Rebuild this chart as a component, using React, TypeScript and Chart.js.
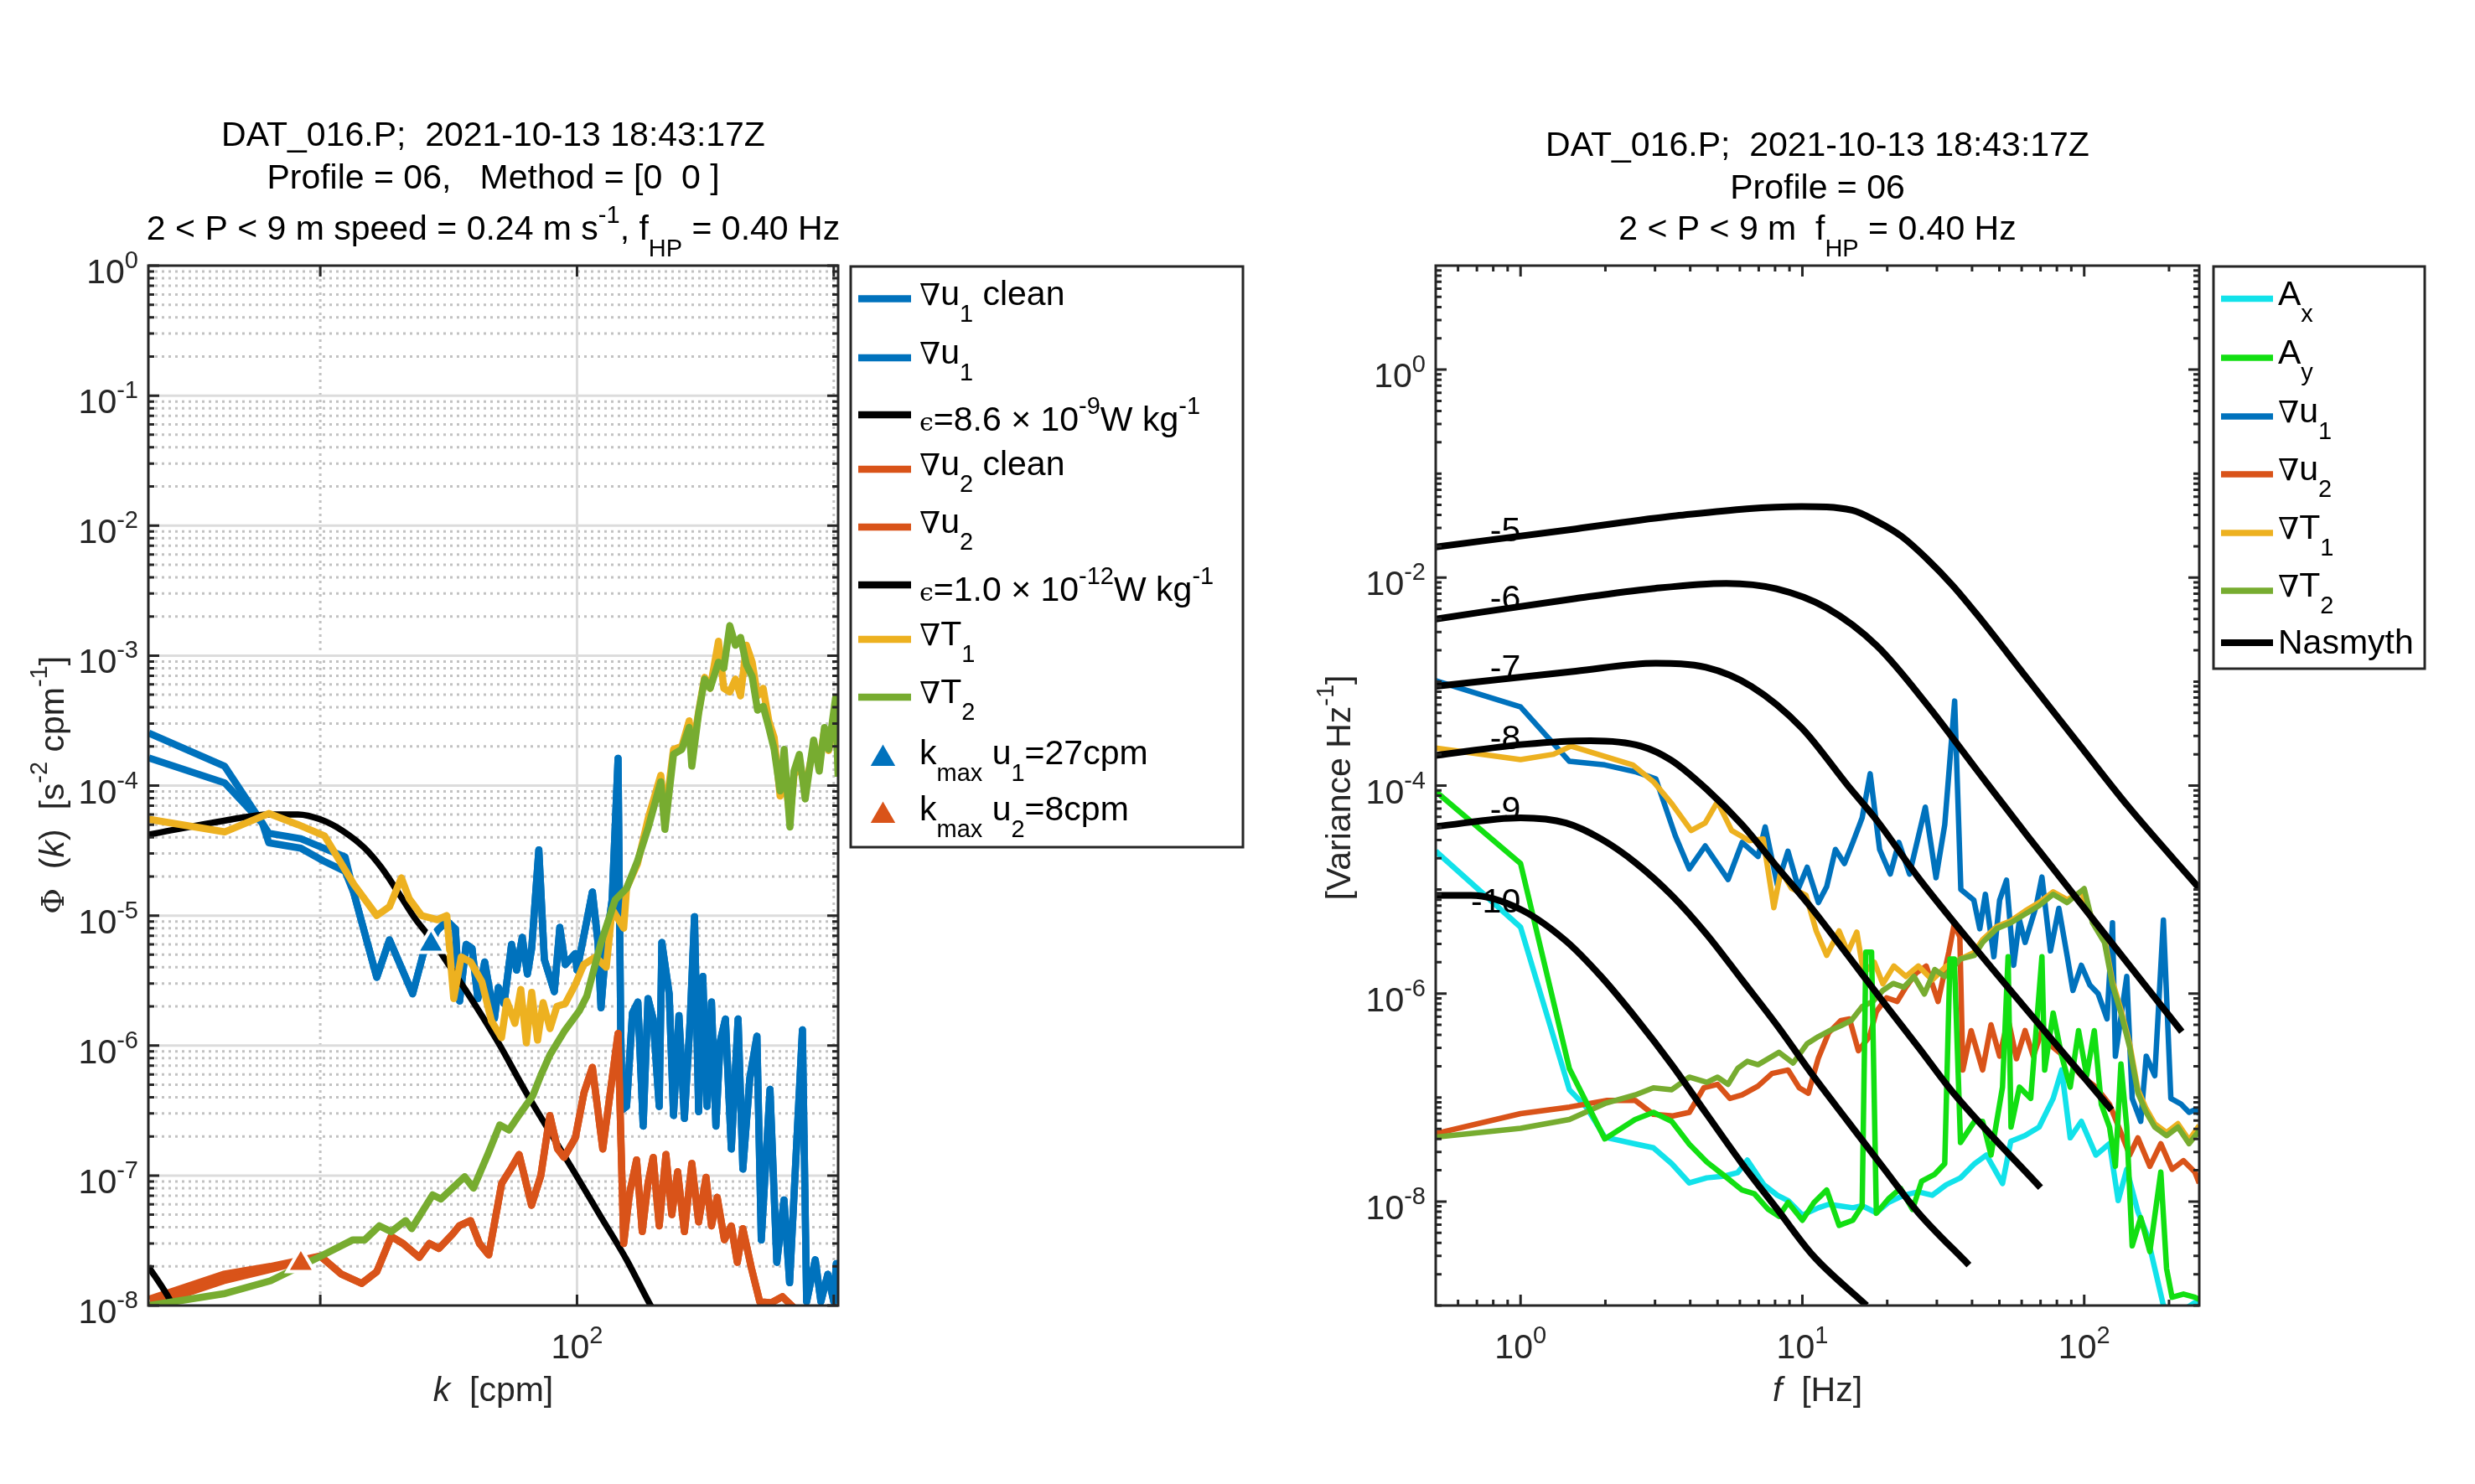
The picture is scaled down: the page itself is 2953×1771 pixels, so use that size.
import React, { useEffect, useRef } from "react";
import { Chart, registerables } from "chart.js";

Chart.register(...registerables);

type Pt = [number, number];

// ================= LEFT PANEL: wavenumber spectra  (k [cpm], Phi [s^-2 cpm^-1]) =================
const u1CleanHead: Pt[] = [[2.15, 1.63e-4], [4.24, 1.05e-4], [5.95, 5.13e-5], [6.3, 3.63e-5], [8.4, 3.3e-5], [10.3, 2.63e-5], [12.5, 2.19e-5]];
const u1RawHead: Pt[] = [[2.15, 2.53e-4], [4.24, 1.41e-4], [5.95, 5.13e-5], [6.3, 4.3e-5], [8.4, 3.9e-5], [10.3, 3.3e-5], [12.5, 2.82e-5]];
const u1Tail: Pt[] = [
  [13.5, 1.5e-5], [16.6, 3.35e-6], [18.6, 6.5e-6], [22.9, 2.5e-6], [25.2, 5.1e-6], [28.6, 7.7e-6], [31.1, 9.1e-6], [33.6, 7.9e-6],
  [34.9, 2.2e-6], [37, 6.0e-6], [39, 5.6e-6], [41.1, 2.3e-6], [43.7, 4.4e-6], [47.7, 1.62e-6], [49.4, 2.8e-6], [52, 2.1e-6],
  [55.6, 6.0e-6], [58.2, 3.8e-6], [61.2, 6.8e-6], [64.1, 3.55e-6], [66.6, 5.6e-6], [71, 3.2e-5], [74.6, 4.6e-6], [81.6, 2.6e-6],
  [85.7, 8.1e-6], [90, 4.2e-6], [98.5, 5.1e-6], [100, 3.8e-6], [106.2, 6.9e-6], [114.8, 1.52e-5], [120.7, 6.2e-6], [124, 1.95e-6],
  [130, 6.2e-6], [137, 1.32e-5], [144.5, 1.62e-4], [148, 1.32e-6], [150, 3.2e-7], [156, 3.4e-7], [164.4, 1.78e-6], [172.6, 2.16e-6],
  [181, 2.4e-7], [189, 2.3e-6], [198, 1.6e-6], [209, 3.4e-7], [214, 6.2e-6], [228.6, 2.5e-6], [237.6, 2.9e-7], [249.5, 1.7e-6],
  [262, 2.75e-7], [276, 1.6e-6], [286.8, 9.8e-6], [297.6, 3.1e-7], [309, 3.4e-6], [321, 3.4e-7], [334, 2.16e-6], [347.5, 2.4e-7],
  [361, 1.07e-6], [378.5, 1.6e-6], [399, 1.6e-7], [424, 1.6e-6], [442.6, 1.12e-7], [471, 5.6e-7], [502, 1.18e-6], [522, 3.2e-8],
  [564.6, 4.6e-7], [600, 2.15e-8], [640, 6.5e-8], [673, 1.5e-8], [718, 1.86e-7], [755, 1.32e-6], [784, 1.07e-8], [847, 2.25e-8],
  [891, 1.07e-8], [948, 1.74e-8], [1000, 1.07e-8], [1023, 2.1e-8], [1040, 1.12e-8],
];
const u1Clean: Pt[] = [...u1CleanHead, ...u1Tail];
const u1Raw: Pt[] = [...u1RawHead, ...u1Tail];

const u2CleanHead: Pt[] = [[2.16, 1.12e-8], [4.2, 1.74e-8], [6.4, 2.0e-8]];
const u2RawHead: Pt[] = [[2.16, 1.0e-8], [4.2, 1.55e-8], [6.4, 1.9e-8]];
const u2Tail: Pt[] = [
  [10, 2.4e-8], [12.1, 1.74e-8], [14.5, 1.48e-8], [16.6, 1.82e-8], [18.9, 3.4e-8], [21, 3.0e-8], [24.3, 2.35e-8], [26.6, 3.0e-8],
  [29, 2.75e-8], [32.8, 3.55e-8], [34.8, 4.1e-8], [38.5, 4.5e-8], [41.7, 3.0e-8], [45.3, 2.45e-8], [50.9, 8.7e-8], [55.6, 1.15e-7],
  [59.5, 1.45e-7], [66.5, 5.9e-8], [72.3, 1.0e-7], [78.4, 2.9e-7], [84, 1.6e-7], [89, 1.38e-7], [98.5, 1.95e-7], [106.5, 4.35e-7],
  [114.8, 6.8e-7], [126, 1.6e-7], [144.5, 1.24e-6], [152, 3.0e-8], [160, 7.2e-8], [170.6, 1.32e-7], [179.5, 3.7e-8], [189, 8.7e-8],
  [198, 1.38e-7], [209, 4.1e-8], [222, 1.45e-7], [234, 5.0e-8], [246.6, 1.07e-7], [262, 3.7e-8], [280, 1.24e-7], [297.6, 4.4e-8],
  [318, 9.7e-8], [334, 4.1e-8], [351.6, 6.8e-8], [375, 3.2e-8], [399, 4.1e-8], [421, 2.15e-8], [442.6, 3.9e-8], [477.5, 1.95e-8],
  [515, 1.07e-8], [571, 1.05e-8], [631, 1.17e-8], [692, 9.8e-9], [740, 8e-9],
];
const u2Clean: Pt[] = [...u2CleanHead, ...u2Tail];
const u2Raw: Pt[] = [...u2RawHead, ...u2Tail];

const t1Left: Pt[] = [
  [2.15, 5.5e-5], [4.24, 4.4e-5], [6.3, 6.1e-5], [8.2, 5.0e-5], [10.4, 4.1e-5], [13.5, 1.74e-5], [16.6, 1.0e-5], [18.6, 1.17e-5],
  [20.7, 1.95e-5], [22.2, 1.35e-5], [24.8, 1.0e-5], [28.6, 9.3e-6], [31.1, 1.0e-5], [33.1, 2.3e-6], [35.4, 4.8e-6], [38.5, 4.4e-6],
  [42.6, 3.1e-6], [46.4, 1.55e-6], [50.8, 1.15e-6], [53.3, 2.2e-6], [57.3, 1.48e-6], [60.4, 2.7e-6], [63.5, 1.05e-6], [66.6, 2.57e-6],
  [70.2, 1.1e-6], [73.8, 2.14e-6], [78.5, 1.35e-6], [83.5, 2.0e-6], [90, 2.1e-6], [98.5, 2.95e-6], [106.2, 4.2e-6], [118, 4.8e-6],
  [130, 4.0e-6], [137, 1.12e-5], [152, 8.0e-6], [156, 1.62e-5], [172, 2.5e-5], [189.7, 5.7e-5], [212, 1.2e-4], [220, 5.7e-5],
  [237.6, 1.9e-4], [256, 2.0e-4], [273.5, 3.15e-4], [280, 1.74e-4], [297.6, 3.7e-4], [314, 6.8e-4], [330, 5.6e-4], [355.6, 1.29e-3],
  [373, 5.6e-4], [393.6, 5.25e-4], [414, 6.6e-4], [433.5, 4.9e-4], [457, 1.2e-3], [481, 8.9e-4], [505, 4.9e-4], [531, 5.6e-4],
  [558.6, 3.15e-4], [586, 2.35e-4], [618, 8.3e-5], [641, 1.29e-4], [675, 5.7e-5], [700, 1.2e-4], [734.5, 1.48e-4], [774, 9.5e-5],
  [835, 2.0e-4], [878, 1.48e-4], [920, 2.7e-4], [955, 1.86e-4], [1016, 3.6e-4], [1040, 2.7e-4],
];
const t2Left: Pt[] = [
  [2.16, 1.0e-8], [4.2, 1.23e-8], [6.4, 1.55e-8], [9.8, 2.34e-8], [13.4, 3.2e-8], [14.9, 3.2e-8], [17, 4.1e-8], [18.9, 3.7e-8],
  [21.5, 4.5e-8], [22.7, 3.9e-8], [27.4, 7.1e-8], [29.5, 6.6e-8], [36.5, 9.8e-8], [39.5, 8.0e-8], [45.1, 1.48e-7], [50, 2.45e-7],
  [54.3, 2.24e-7], [58.6, 2.8e-7], [67.2, 4.1e-7], [72.3, 5.9e-7], [78.5, 8.5e-7], [89.3, 1.29e-6], [102.3, 1.86e-6], [109.2, 2.4e-6],
  [124, 6.2e-6], [140.8, 1.32e-5], [156, 1.62e-5], [172, 2.63e-5], [189.7, 4.8e-5], [212, 1.07e-4], [220, 4.6e-5], [237.6, 1.74e-4],
  [256, 1.9e-4], [273.5, 2.8e-4], [280, 1.41e-4], [297.6, 3.6e-4], [314, 6.6e-4], [330, 5.6e-4], [355.6, 8.9e-4], [373, 8.0e-4],
  [393.6, 1.7e-3], [414, 1.2e-3], [433.5, 1.38e-3], [457, 8.5e-4], [481, 6.9e-4], [505, 3.8e-4], [531, 4.07e-4], [558.6, 2.8e-4],
  [586, 1.9e-4], [618, 9.1e-5], [641, 1.9e-4], [675, 4.8e-5], [700, 1.29e-4], [734.5, 1.74e-4], [774, 7.9e-5], [835, 2.24e-4],
  [878, 1.29e-4], [920, 2.8e-4], [955, 1.9e-4], [1016, 4.7e-4], [1040, 1.17e-4],
];
const nasmythEps86: Pt[] = [
  [2.15, 4.2e-5], [4.3, 5.4e-5], [6.3, 6.0e-5], [8.2, 6.0e-5], [10, 5.5e-5], [12.2, 4.5e-5], [14.9, 3.3e-5], [17.3, 2.34e-5],
  [20.1, 1.51e-5], [23.4, 9.5e-6], [27.2, 6.5e-6], [31.6, 4.2e-6], [36.7, 2.7e-6], [42.6, 1.7e-6], [49.4, 1.05e-6], [64, 4.2e-7],
  [80.3, 2.0e-7], [98.5, 1.03e-7], [124, 4.8e-8], [156, 2.25e-8], [191, 1.05e-8], [215, 7.0e-9],
];
const nasmythEps1e12: Pt[] = [[2.14, 2.0e-8], [2.6, 1.1e-8], [2.9, 7.0e-9]];
const kmaxU1: Pt[] = [[27, 6.0e-6]];
const kmaxU2: Pt[] = [[8.4, 2.1e-8]];

// ================= RIGHT PANEL: frequency spectra (f [Hz], variance Hz^-1) =================
const axRight: Pt[] = [
  [0.5, 2.34e-5], [1.0, 4.35e-6], [1.49, 1.19e-7], [1.71, 8.1e-8], [1.99, 4.16e-8], [2.58, 3.56e-8], [2.96, 3.29e-8], [3.44, 2.31e-8],
  [3.97, 1.51e-8], [4.58, 1.69e-8], [5.3, 1.76e-8], [5.9, 1.9e-8], [6.38, 2.5e-8], [7.3, 1.45e-8], [8.15, 1.15e-8], [8.9, 1.02e-8],
  [10, 7.4e-9], [11.4, 8.7e-9], [12.4, 9.4e-9], [13.5, 9.1e-9], [15.1, 8.7e-9], [16.3, 9.1e-9], [18.3, 7.8e-9], [20.2, 9.8e-9],
  [22.9, 1.15e-8], [25.8, 1.24e-8], [28.9, 1.15e-8], [32.4, 1.45e-8], [36.4, 1.69e-8], [40.8, 2.31e-8], [45, 2.8e-8], [51.3, 1.49e-8],
  [54.9, 3.8e-8], [61.6, 4.3e-8], [69.2, 5.2e-8], [77.6, 9.8e-8], [83.2, 1.84e-7], [89.2, 4.1e-8], [97.7, 5.9e-8], [110, 2.8e-8],
  [123, 3.6e-8], [132, 1.02e-8], [141.6, 2.04e-8], [155, 8.0e-9], [167, 4.8e-9], [178, 2.27e-9], [191, 1.0e-9], [210, 8e-10],
  [247, 1.07e-9], [256, 1.0e-9],
];
const ayRight: Pt[] = [
  [0.5, 8.8e-5], [1.0, 1.78e-5], [1.49, 1.9e-7], [1.99, 4.0e-8], [2.55, 6.15e-8], [2.96, 7.2e-8], [3.44, 5.9e-8], [3.97, 3.56e-8],
  [4.58, 2.4e-8], [5.3, 1.76e-8], [6.11, 1.29e-8], [6.75, 1.19e-8], [7.57, 8.4e-9], [8.26, 7.2e-9], [8.9, 9.8e-9], [10, 6.6e-9],
  [11, 9.8e-9], [12.2, 1.29e-8], [13.5, 5.9e-9], [15.1, 6.6e-9], [16.3, 9.1e-9], [16.8, 2.5e-6], [17.6, 2.5e-6], [18.3, 7.7e-9],
  [20.2, 1.06e-8], [22.3, 1.34e-8], [24.6, 8.4e-9], [26.5, 1.57e-8], [29.5, 1.83e-8], [32, 2.31e-8], [33.4, 2.15e-6], [34.6, 2.15e-6],
  [36.4, 3.7e-8], [40.8, 5.9e-8], [43.6, 5.9e-8], [46.7, 2.8e-8], [51.3, 1.26e-7], [53.7, 2.26e-6], [55, 5.2e-8], [58.9, 1.26e-7],
  [64.6, 9.8e-8], [70.8, 2.26e-6], [72.4, 1.84e-7], [77.6, 6.5e-7], [83.2, 2.5e-7], [89.2, 1.26e-7], [95.5, 4.4e-7], [102, 1.62e-7],
  [108.6, 4.4e-7], [115, 8.6e-8], [123, 5.2e-8], [129, 2.18e-8], [135, 2.1e-7], [141.6, 5.2e-8], [148, 3.75e-9], [158.7, 7.0e-9],
  [171, 3.3e-9], [187, 1.92e-8], [196, 2.27e-9], [205, 1.2e-9], [225, 1.29e-9], [247, 1.2e-9], [256, 1.14e-9],
];
const u1Right: Pt[] = [
  [0.5, 1.02e-3], [1.0, 5.7e-4], [1.49, 1.71e-4], [1.99, 1.58e-4], [2.58, 1.35e-4], [3.02, 1.16e-4], [3.54, 3.3e-5], [3.97, 1.58e-5],
  [4.52, 2.63e-5], [5.45, 1.25e-5], [6.11, 2.84e-5], [6.96, 2.08e-5], [7.38, 4.0e-5], [8.15, 1.11e-5], [8.89, 2.34e-5], [9.69, 1.03e-5],
  [10.4, 1.64e-5], [11.4, 7.5e-6], [12.2, 1.07e-5], [13.1, 2.43e-5], [14.1, 1.78e-5], [15.1, 2.84e-5], [16.3, 4.9e-5], [17.4, 1.3e-4],
  [18.8, 2.43e-5], [20.5, 1.41e-5], [22, 2.84e-5], [24, 1.41e-5], [27.3, 6.2e-5], [29.8, 1.3e-5], [32, 4.2e-5], [34.7, 6.5e-4],
  [36.5, 1.0e-5], [40.6, 7.9e-6], [42.6, 4.2e-6], [44.6, 9.0e-6], [47.8, 2.26e-6], [50.1, 7.9e-6], [53, 1.23e-5], [56.2, 1.87e-6],
  [58.9, 5.1e-6], [61.7, 3.1e-6], [67.6, 7.0e-6], [70.8, 1.32e-5], [75.9, 2.57e-6], [81.3, 6.6e-6], [87.1, 2.26e-6], [91.2, 1.07e-6],
  [97.7, 1.87e-6], [104.7, 1.21e-6], [112, 1.0e-6], [120.5, 5.7e-7], [126, 4.8e-6], [129, 2.5e-7], [141.6, 1.46e-6], [148, 9.8e-8],
  [158.7, 5.9e-8], [166, 2.5e-7], [178, 1.62e-7], [191, 5.1e-6], [203, 9.8e-8], [220, 8.7e-8], [235.6, 7.2e-8], [246.7, 7.6e-8],
  [256, 7.0e-8],
];
const u2Right: Pt[] = [
  [0.5, 4.5e-8], [1.0, 7.0e-8], [1.49, 8.1e-8], [2.03, 9.4e-8], [2.55, 9.4e-8], [2.96, 6.9e-8], [3.47, 6.65e-8], [3.97, 7.2e-8],
  [4.47, 1.24e-7], [5.0, 1.34e-7], [5.53, 9.8e-8], [6.11, 1.06e-7], [6.96, 1.29e-7], [7.8, 1.7e-7], [8.9, 1.84e-7], [9.75, 1.24e-7],
  [10.5, 1.1e-7], [11.4, 2.41e-7], [12.4, 4.2e-7], [13.7, 5.5e-7], [14.7, 5.7e-7], [15.8, 2.82e-7], [17.3, 3.86e-7], [18.3, 6.7e-7],
  [19.9, 9.1e-7], [21.7, 8.4e-7], [23.3, 1.15e-6], [25.3, 1.57e-6], [27.5, 1.84e-6], [30.3, 8.4e-7], [33.1, 2.52e-6], [34.6, 4.7e-6],
  [36.2, 3.5e-6], [37.1, 1.84e-7], [39.7, 4.4e-7], [43.6, 1.84e-7], [46.7, 5.0e-7], [50.1, 2.5e-7], [53.7, 5.7e-7], [57.5, 2.36e-7],
  [61.7, 4.4e-7], [66, 2.5e-7], [70.8, 4.4e-7], [77.6, 3.04e-7], [87, 2.36e-7], [97.7, 1.62e-7], [110, 1.26e-7], [123, 8.6e-8],
  [135, 4.6e-8], [145, 2.8e-8], [155, 4.1e-8], [171, 2.18e-8], [187, 3.6e-8], [205, 2.04e-8], [225, 2.47e-8], [247, 1.92e-8],
  [256, 1.5e-8],
];
const t1Right: Pt[] = [
  [0.5, 2.3e-4], [1.0, 1.78e-4], [1.31, 2.0e-4], [1.51, 2.4e-4], [2.5, 1.58e-4], [2.98, 1.07e-4], [3.44, 6.7e-5], [4.03, 3.7e-5],
  [4.52, 4.36e-5], [5.0, 7.0e-5], [5.61, 3.7e-5], [6.48, 2.95e-5], [7.26, 3.07e-5], [7.92, 6.7e-6], [8.39, 1.52e-5], [9.15, 1.03e-5],
  [10.3, 8.8e-6], [11.2, 4.0e-6], [12.2, 2.33e-6], [13.5, 4.0e-6], [14.5, 2.5e-6], [15.6, 3.9e-6], [16.5, 1.57e-6], [18, 2.0e-6],
  [19.3, 1.24e-6], [21.1, 1.84e-6], [23.3, 1.46e-6], [25.8, 1.84e-6], [28.9, 1.35e-6], [32.4, 1.84e-6], [36.4, 2.15e-6], [40.8, 2.5e-6],
  [43.6, 3.3e-6], [48.9, 4.4e-6], [54.9, 5.0e-6], [61.6, 6.2e-6], [69.2, 7.5e-6], [77.6, 9.5e-6], [87, 8.0e-6], [97.7, 9.5e-6],
  [107, 5.2e-6], [118, 3.4e-6], [126, 1.3e-6], [135, 7.0e-7], [145, 3.3e-7], [155, 1.2e-7], [166, 7.8e-8], [178, 5.6e-8],
  [196, 4.6e-8], [215, 5.6e-8], [235.6, 3.9e-8], [256, 5.4e-8],
];
const t2Right: Pt[] = [
  [0.5, 4.16e-8], [1.0, 5.06e-8], [1.49, 6.15e-8], [1.99, 8.75e-8], [2.55, 1.06e-7], [2.96, 1.24e-7], [3.44, 1.19e-7], [3.97, 1.57e-7],
  [4.58, 1.4e-7], [5.0, 1.57e-7], [5.45, 1.34e-7], [5.9, 1.91e-7], [6.38, 2.23e-7], [6.96, 2.07e-7], [8.26, 2.72e-7], [9.27, 2.15e-7],
  [10.4, 3.3e-7], [11.4, 3.86e-7], [12.4, 4.35e-7], [13.7, 4.9e-7], [14.9, 5.5e-7], [16.3, 7.5e-7], [17.8, 8.4e-7], [19.3, 1.07e-6],
  [21, 1.25e-6], [22.9, 1.15e-6], [24.9, 1.46e-6], [27.1, 9.9e-7], [29.5, 1.7e-6], [32, 1.46e-6], [36.4, 2.15e-6], [40.8, 2.33e-6],
  [43.6, 3.1e-6], [48.9, 4.2e-6], [54.9, 4.8e-6], [61.6, 5.8e-6], [69.2, 7.0e-6], [77.6, 9.0e-6], [87, 7.5e-6], [100, 1.02e-5],
  [107, 4.8e-6], [118, 3.1e-6], [126, 1.21e-6], [135, 6.5e-7], [145, 3.04e-7], [155, 1.11e-7], [166, 7.2e-8], [178, 5.2e-8],
  [196, 4.3e-8], [215, 5.2e-8], [235.6, 3.6e-8], [256, 4.8e-8],
];
const nasmyth5: Pt[] = [
  [0.5, 1.97e-2], [1.57, 2.94e-2], [3.56, 3.93e-2], [9.93, 4.83e-2], [15, 4.45e-2], [18.4, 3.47e-2], [22.5, 2.49e-2], [27.7, 1.51e-2],
  [34, 8.5e-3], [41.7, 4.4e-3], [62.8, 1.07e-3], [94.7, 2.6e-4], [142.6, 6.4e-5], [256, 1.03e-5],
];
const nasmyth6: Pt[] = [
  [0.5, 4.0e-3], [1.57, 6.3e-3], [2.9, 7.8e-3], [5.37, 8.8e-3], [8.09, 7.8e-3], [12.2, 5.1e-3], [18.4, 2.2e-3], [27.7, 6.0e-4],
  [41.7, 1.4e-4], [62.8, 3.3e-5], [222, 4.3e-7],
];
const nasmyth7: Pt[] = [
  [0.5, 9.0e-4], [1.57, 1.26e-3], [3.02, 1.5e-3], [4.55, 1.37e-3], [6.59, 9.0e-4], [9.93, 3.6e-4], [14.5, 1.0e-4], [18.4, 4.6e-5],
  [25.8, 1.3e-5], [41.7, 2.6e-6], [125, 7.6e-8],
];
const nasmyth8: Pt[] = [
  [0.5, 1.95e-4], [1.04, 2.5e-4], [1.77, 2.7e-4], [2.67, 2.4e-4], [3.43, 1.75e-4], [4.58, 9.2e-5], [6.11, 4.2e-5], [8.15, 1.64e-5],
  [10.9, 6.4e-6], [14.5, 2.33e-6], [19.3, 8.4e-7], [25.8, 3.05e-7], [34.4, 1.1e-7], [70, 1.36e-8],
];
const nasmyth9: Pt[] = [
  [0.5, 4.04e-5], [1.0, 4.9e-5], [1.45, 4.37e-5], [1.93, 3.07e-5], [2.58, 1.78e-5], [3.44, 8.8e-6], [4.58, 3.7e-6], [6.11, 1.35e-6],
  [8.15, 4.9e-7], [10.9, 1.63e-7], [14.5, 5.9e-8], [19.3, 2.14e-8], [25.8, 7.8e-9], [39, 2.45e-9],
];
const nasmyth10: Pt[] = [
  [0.5, 8.8e-6], [0.667, 8.8e-6], [1.0, 6.45e-6], [1.45, 3.2e-6], [1.93, 1.46e-6], [2.58, 5.7e-7], [3.44, 2.07e-7], [4.58, 6.9e-8],
  [6.11, 2.31e-8], [8.15, 8.4e-9], [10.9, 3.03e-9], [16.9, 1.0e-9],
];
const nasmythLabels: { t: string; f: number; v: number }[] = [
  { t: "-5", f: 1.0, v: 2.96e-2 }, { t: "-6", f: 1.0, v: 6.6e-3 }, { t: "-7", f: 1.0, v: 1.42e-3 },
  { t: "-8", f: 1.0, v: 2.95e-4 }, { t: "-9", f: 1.0, v: 6.1e-5 }, { t: "-10", f: 1.0, v: 8.0e-6 },
];

// tick labels (value, exponent text)
const leftXLabels: [number, string][] = [[100, "2"]];
const leftYLabels: [number, string][] = [[1e-8, "-8"], [1e-7, "-7"], [1e-6, "-6"], [1e-5, "-5"], [1e-4, "-4"], [1e-3, "-3"], [1e-2, "-2"], [1e-1, "-1"], [1, "0"]];
const rightXLabels: [number, string][] = [[1, "0"], [10, "1"], [100, "2"]];
const rightYLabels: [number, string][] = [[1e-8, "-8"], [1e-6, "-6"], [1e-4, "-4"], [1e-2, "-2"], [1, "0"]];

// ================= drawing helpers =================
const BLUE = "#0072BD", RED = "#D95319", YELLOW = "#EDB120", GREEN = "#77AC30", CYAN = "#12E2EA", LIME = "#12DF12", BLACK = "#000000";
const SANS = '"Liberation Sans", Arial, Helvetica, "DejaVu Sans", sans-serif';
const SERIF = '"DejaVu Serif", "Liberation Serif", serif';
const AXC = "#262626";

type Run = { t: string; s?: "sub" | "sup"; fam?: string; it?: boolean; px?: number; dy?: number };

function drawRich(ctx: CanvasRenderingContext2D, x: number, y: number, runs: Run[], align: "left" | "center" | "right", opt?: { base?: number; sub?: number; sup?: number }) {
  const base = opt?.base ?? 41;
  const subDy = opt?.sub ?? 20;
  const supDy = opt?.sup ?? -20;
  const fontOf = (r: Run) => `${r.it ? "italic " : ""}${r.px ?? (r.s ? Math.round(base * 0.7) : base)}px ${r.fam ?? SANS}`;
  let total = 0;
  const ws = runs.map((r) => { ctx.font = fontOf(r); const w = ctx.measureText(r.t).width; total += w; return w; });
  let cx = align === "left" ? x : align === "right" ? x - total : x - total / 2;
  ctx.textAlign = "left";
  ctx.textBaseline = "alphabetic";
  runs.forEach((r, i) => {
    ctx.font = fontOf(r);
    const dy = r.dy ?? (r.s === "sub" ? subDy : r.s === "sup" ? supDy : 0);
    ctx.fillText(r.t, cx, y + dy);
    cx += ws[i];
  });
}

function triangle(ctx: CanvasRenderingContext2D, cx: number, cy: number, r: number, fill: string) {
  ctx.beginPath();
  for (let i = 0; i < 3; i++) {
    const a = -Math.PI / 2 + (i * 2 * Math.PI) / 3;
    const px = cx + r * Math.cos(a), py = cy + r * Math.sin(a);
    if (i === 0) ctx.moveTo(px, py); else ctx.lineTo(px, py);
  }
  ctx.closePath();
  ctx.fillStyle = fill;
  ctx.fill();
}

type LegendItem = { y: number; color: string; kind: "line" | "tri"; runs: Run[]; off: number; lw: number };
function drawLegend(ctx: CanvasRenderingContext2D, box: [number, number, number, number], lx1: number, lx2: number, tx: number, items: LegendItem[]) {
  const [x1, y1, x2, y2] = box;
  ctx.save();
  ctx.fillStyle = "#fff";
  ctx.fillRect(x1, y1, x2 - x1, y2 - y1);
  ctx.strokeStyle = AXC;
  ctx.lineWidth = 3;
  ctx.setLineDash([]);
  ctx.strokeRect(x1, y1, x2 - x1, y2 - y1);
  items.forEach((it) => {
    if (it.kind === "line") {
      ctx.strokeStyle = it.color;
      ctx.lineWidth = it.lw;
      ctx.lineCap = "butt";
      ctx.beginPath();
      ctx.moveTo(lx1, it.y);
      ctx.lineTo(lx2, it.y);
      ctx.stroke();
    } else {
      triangle(ctx, (lx1 + lx2) / 2 - 2, it.y + 2, 17, it.color);
    }
    ctx.fillStyle = "#000";
    drawRich(ctx, tx, it.y + it.off, it.runs, "left");
  });
  ctx.restore();
}

const decades = (lo: number, hi: number) => { const out: number[] = []; for (let e = lo; e <= hi; e++) out.push(Math.pow(10, e)); return out; };
const minors = (lo: number, hi: number, min: number, max: number) => {
  const out: number[] = [];
  for (let e = lo; e <= hi; e++) for (let m = 2; m <= 9; m++) { const v = m * Math.pow(10, e); if (v > min * 1.0001 && v < max * 0.9999) out.push(v); }
  return out;
};

interface Panel {
  id: string;
  xMajorGrid: number[]; xMinorGrid: number[]; yMajorGrid: number[]; yMinorGrid: number[];
  xMajorTicks: number[]; xMinorTicks: number[]; yMajorTicks: number[]; yMinorTicks: number[];
  xLabels: [number, string][]; yLabels: [number, string][];
  decorate: (ctx: CanvasRenderingContext2D, chart: any) => void;
}

function panelPlugin(p: Panel) {
  return {
    id: p.id,
    beforeDatasetsDraw(chart: any) {
      const { ctx, chartArea: a } = chart;
      const xs = chart.scales.x, ys = chart.scales.y;
      ctx.save();
      ctx.beginPath();
      ctx.rect(a.left, a.top, a.right - a.left, a.bottom - a.top);
      ctx.clip();
      const h = (v: number) => { const y = ys.getPixelForValue(v); ctx.beginPath(); ctx.moveTo(a.left, y); ctx.lineTo(a.right, y); ctx.stroke(); };
      const vv = (v: number) => { const x = xs.getPixelForValue(v); ctx.beginPath(); ctx.moveTo(x, a.top); ctx.lineTo(x, a.bottom); ctx.stroke(); };
      ctx.strokeStyle = "#c2c2c2";
      ctx.lineWidth = 3;
      ctx.setLineDash([3, 5]);
      p.yMinorGrid.forEach(h);
      p.xMinorGrid.forEach(vv);
      ctx.setLineDash([]);
      ctx.strokeStyle = "#dcdcdc";
      ctx.lineWidth = 3;
      p.yMajorGrid.forEach(h);
      p.xMajorGrid.forEach(vv);
      ctx.restore();
    },
    afterDatasetsDraw(chart: any) {
      const { ctx, chartArea: a } = chart;
      const xs = chart.scales.x, ys = chart.scales.y;
      ctx.save();
      ctx.setLineDash([]);
      ctx.strokeStyle = AXC;
      ctx.lineWidth = 3;
      ctx.lineCap = "butt";
      const xt = (len: number) => (v: number) => {
        const x = xs.getPixelForValue(v);
        ctx.beginPath(); ctx.moveTo(x, a.bottom); ctx.lineTo(x, a.bottom - len);
        ctx.moveTo(x, a.top); ctx.lineTo(x, a.top + len); ctx.stroke();
      };
      const yt = (len: number) => (v: number) => {
        const y = ys.getPixelForValue(v);
        ctx.beginPath(); ctx.moveTo(a.left, y); ctx.lineTo(a.left + len, y);
        ctx.moveTo(a.right, y); ctx.lineTo(a.right - len, y); ctx.stroke();
      };
      p.xMajorTicks.forEach(xt(13));
      p.xMinorTicks.forEach(xt(7));
      p.yMajorTicks.forEach(yt(13));
      p.yMinorTicks.forEach(yt(7));
      ctx.strokeRect(a.left, a.top, a.right - a.left, a.bottom - a.top);
      ctx.fillStyle = AXC;
      p.xLabels.forEach(([v, e]) => drawRich(ctx, xs.getPixelForValue(v), a.bottom + 63, [{ t: "10" }, { t: e, s: "sup" }], "center", { sup: -18 }));
      p.yLabels.forEach(([v, e]) => drawRich(ctx, a.left - 12, ys.getPixelForValue(v) + 21, [{ t: "10" }, { t: e, s: "sup" }], "right", { sup: -18 }));
      p.decorate(ctx, chart);
      ctx.restore();
    },
  };
}

const NABLA: Run = { t: "∇", fam: SERIF, px: 36 };
const EPS: Run = { t: "ϵ", fam: SERIF, px: 30 };

function lineDs(label: string, pts: Pt[], color: string, width: number, smooth = false) {
  return {
    label,
    data: pts.map(([x, y]) => ({ x, y })),
    borderColor: color,
    backgroundColor: color,
    borderWidth: width,
    pointRadius: 0,
    fill: false,
    tension: 0,
    cubicInterpolationMode: smooth ? "monotone" : "default",
    borderJoinStyle: "round",
    borderCapStyle: "butt",
    clip: 0,
  };
}
function triDs(label: string, pts: Pt[], color: string) {
  return {
    label,
    data: pts.map(([x, y]) => ({ x, y })),
    showLine: false,
    pointStyle: "triangle",
    pointRadius: 19,
    pointBackgroundColor: color,
    pointBorderColor: "#ffffff",
    pointBorderWidth: 4,
    clip: false,
  };
}
function withOrder(ds: any[]) {
  return ds.map((d, i) => ({ ...d, order: ds.length - i }));
}

const W = 2953, H = 1771;

export default function App() {
  const leftRef = useRef<HTMLCanvasElement>(null);
  const rightRef = useRef<HTMLCanvasElement>(null);

  useEffect(() => {
    const LW = 8.5;
    const RW = 6.5;
    const KW = 8;
    const leftPanel: Panel = {
      id: "leftPanel",
      xMajorGrid: [100], xMinorGrid: [10, 1000],
      yMajorGrid: decades(-7, -1), yMinorGrid: minors(-8, -1, 1e-8, 1),
      xMajorTicks: [10, 100, 1000], xMinorTicks: [],
      yMajorTicks: decades(-8, 0), yMinorTicks: minors(-8, -1, 1e-8, 1),
      xLabels: leftXLabels, yLabels: leftYLabels,
      decorate(ctx) {
        const cx = 588.5;
        ctx.fillStyle = "#000";
        drawRich(ctx, cx, 173.6, [{ t: "DAT_016.P;  2021-10-13 18:43:17Z" }], "center");
        drawRich(ctx, cx, 225.4, [{ t: "Profile = 06,   Method = [0  0 ]" }], "center");
        drawRich(ctx, cx, 286, [{ t: "2 < P < 9 m speed = 0.24 m s" }, { t: "-1", s: "sup" }, { t: ", f" }, { t: "HP", s: "sub" }, { t: " = 0.40 Hz" }], "center");
        ctx.fillStyle = AXC;
        drawRich(ctx, cx, 1672, [{ t: "k", it: true }, { t: "  [cpm]" }], "center");
        ctx.save();
        ctx.translate(76, 937);
        ctx.rotate(-Math.PI / 2);
        drawRich(ctx, 0, 0, [{ t: "Φ", fam: SERIF, px: 38 }, { t: "  (" }, { t: "k", it: true }, { t: ")  [s" }, { t: "-2", s: "sup" }, { t: " cpm" }, { t: "-1", s: "sup" }, { t: "]" }], "center");
        ctx.restore();
        drawLegend(ctx, [1015, 318, 1483, 1011], 1024, 1087, 1097, [
          { y: 356.6, color: BLUE, kind: "line", lw: LW, off: 7, runs: [NABLA, { t: "u" }, { t: "1", s: "sub" }, { t: " clean" }] },
          { y: 427, color: BLUE, kind: "line", lw: LW, off: 7, runs: [NABLA, { t: "u" }, { t: "1", s: "sub" }] },
          { y: 495, color: BLACK, kind: "line", lw: LW, off: 19, runs: [EPS, { t: "=8.6 × 10" }, { t: "-9", s: "sup" }, { t: "W kg" }, { t: "-1", s: "sup" }] },
          { y: 560, color: RED, kind: "line", lw: LW, off: 7, runs: [NABLA, { t: "u" }, { t: "2", s: "sub" }, { t: " clean" }] },
          { y: 629, color: RED, kind: "line", lw: LW, off: 7, runs: [NABLA, { t: "u" }, { t: "2", s: "sub" }] },
          { y: 698, color: BLACK, kind: "line", lw: LW, off: 19, runs: [EPS, { t: "=1.0 × 10" }, { t: "-12", s: "sup" }, { t: "W kg" }, { t: "-1", s: "sup" }] },
          { y: 763, color: YELLOW, kind: "line", lw: LW, off: 7, runs: [NABLA, { t: "T" }, { t: "1", s: "sub" }] },
          { y: 832, color: GREEN, kind: "line", lw: LW, off: 7, runs: [NABLA, { t: "T" }, { t: "2", s: "sub" }] },
          { y: 903.6, color: BLUE, kind: "tri", lw: 0, off: 8, runs: [{ t: "k" }, { t: "max", s: "sub" }, { t: " u" }, { t: "1", s: "sub" }, { t: "=27cpm" }] },
          { y: 971.4, color: RED, kind: "tri", lw: 0, off: 8, runs: [{ t: "k" }, { t: "max", s: "sub" }, { t: " u" }, { t: "2", s: "sub" }, { t: "=8cpm" }] },
        ]);
      },
    };

    const rightPanel: Panel = {
      id: "rightPanel",
      xMajorGrid: [], xMinorGrid: [], yMajorGrid: [], yMinorGrid: [],
      xMajorTicks: [1, 10, 100],
      xMinorTicks: [0.6, 0.7, 0.8, 0.9, ...minors(0, 2, 0.5, 256)],
      yMajorTicks: [1e-8, 1e-6, 1e-4, 1e-2, 1],
      yMinorTicks: [1e-9, 1e-7, 1e-5, 1e-3, 1e-1, ...minors(-9, 0, 1e-9, 10)],
      xLabels: rightXLabels, yLabels: rightYLabels,
      decorate(ctx, chart) {
        const cx = 2168.5;
        const xs = chart.scales.x, ys = chart.scales.y;
        ctx.fillStyle = "#000";
        nasmythLabels.forEach((l) => drawRich(ctx, xs.getPixelForValue(l.f), ys.getPixelForValue(l.v) + 15, [{ t: l.t }], "right"));
        drawRich(ctx, cx, 186, [{ t: "DAT_016.P;  2021-10-13 18:43:17Z" }], "center");
        drawRich(ctx, cx, 237, [{ t: "Profile = 06" }], "center");
        drawRich(ctx, cx, 286, [{ t: "2 < P < 9 m  f" }, { t: "HP", s: "sub" }, { t: " = 0.40 Hz" }], "center");
        ctx.fillStyle = AXC;
        drawRich(ctx, cx, 1672, [{ t: "f", it: true }, { t: "  [Hz]" }], "center");
        ctx.save();
        ctx.translate(1611, 940);
        ctx.rotate(-Math.PI / 2);
        drawRich(ctx, 0, 0, [{ t: "[Variance Hz" }, { t: "-1", s: "sup" }, { t: "]" }], "center");
        ctx.restore();
        drawLegend(ctx, [2641, 318, 2893, 798], 2650, 2712, 2718, [
          { y: 356.6, color: CYAN, kind: "line", lw: RW + 1, off: 7, runs: [{ t: "A" }, { t: "x", s: "sub" }] },
          { y: 427, color: LIME, kind: "line", lw: RW + 1, off: 7, runs: [{ t: "A" }, { t: "y", s: "sub" }] },
          { y: 497, color: BLUE, kind: "line", lw: RW + 1, off: 7, runs: [NABLA, { t: "u" }, { t: "1", s: "sub" }] },
          { y: 566, color: RED, kind: "line", lw: RW + 1, off: 7, runs: [NABLA, { t: "u" }, { t: "2", s: "sub" }] },
          { y: 636, color: YELLOW, kind: "line", lw: RW + 1, off: 7, runs: [NABLA, { t: "T" }, { t: "1", s: "sub" }] },
          { y: 705, color: GREEN, kind: "line", lw: RW + 1, off: 7, runs: [NABLA, { t: "T" }, { t: "2", s: "sub" }] },
          { y: 767, color: BLACK, kind: "line", lw: KW, off: 13, runs: [{ t: "Nasmyth" }] },
        ]);
      },
    };

    const common = (area: { l: number; t: number; r: number; b: number }, xr: [number, number], yr: [number, number]) => ({
      animation: false as const,
      responsive: false,
      devicePixelRatio: 1,
      events: [] as any[],
      layout: { padding: { left: area.l, top: area.t, right: W - area.r, bottom: H - area.b } },
      plugins: { legend: { display: false }, tooltip: { enabled: false }, title: { display: false } },
      scales: {
        x: { type: "logarithmic" as const, min: xr[0], max: xr[1], display: false, bounds: "data" as const },
        y: { type: "logarithmic" as const, min: yr[0], max: yr[1], display: false, bounds: "data" as const },
      },
    });

    const leftChart = new Chart(leftRef.current as HTMLCanvasElement, {
      type: "line",
      data: {
        datasets: withOrder([
          lineDs("u1 clean", u1Clean, BLUE, LW),
          lineDs("u1", u1Raw, BLUE, LW),
          lineDs("eps 8.6e-9", nasmythEps86, BLACK, 7.5, true),
          lineDs("u2 clean", u2Clean, RED, LW),
          lineDs("u2", u2Raw, RED, LW),
          lineDs("eps 1e-12", nasmythEps1e12, BLACK, 7.5, true),
          lineDs("T1", t1Left, YELLOW, LW),
          lineDs("T2", t2Left, GREEN, LW),
          triDs("kmax u1", kmaxU1, BLUE),
          triDs("kmax u2", kmaxU2, RED),
        ]) as any,
      },
      options: common({ l: 177, t: 317, r: 1000, b: 1558 }, [2.14, 1040], [1e-8, 1]) as any,
      plugins: [panelPlugin(leftPanel)],
    });

    const rightChart = new Chart(rightRef.current as HTMLCanvasElement, {
      type: "line",
      data: {
        datasets: withOrder([
          lineDs("Ax", axRight, CYAN, RW),
          lineDs("u1", u1Right, BLUE, RW),
          lineDs("u2", u2Right, RED, RW),
          lineDs("T1", t1Right, YELLOW, RW),
          lineDs("T2", t2Right, GREEN, RW),
          lineDs("Ay", ayRight, LIME, RW),
          lineDs("Nasmyth -5", nasmyth5, BLACK, KW, true),
          lineDs("Nasmyth -6", nasmyth6, BLACK, KW, true),
          lineDs("Nasmyth -7", nasmyth7, BLACK, KW, true),
          lineDs("Nasmyth -8", nasmyth8, BLACK, KW, true),
          lineDs("Nasmyth -9", nasmyth9, BLACK, KW, true),
          lineDs("Nasmyth -10", nasmyth10, BLACK, KW, true),
        ]) as any,
      },
      options: common({ l: 1713, t: 317, r: 2624, b: 1558 }, [0.5, 256], [1e-9, 10]) as any,
      plugins: [panelPlugin(rightPanel)],
    });

    return () => {
      leftChart.destroy();
      rightChart.destroy();
    };
  }, []);

  return (
    <div style={{ position: "absolute", left: 0, top: 0, width: W, height: H, background: "#ffffff", overflow: "hidden" }}>
      <canvas ref={leftRef} width={W} height={H} style={{ position: "absolute", left: 0, top: 0, width: W, height: H }} />
      <canvas ref={rightRef} width={W} height={H} style={{ position: "absolute", left: 0, top: 0, width: W, height: H }} />
    </div>
  );
}
